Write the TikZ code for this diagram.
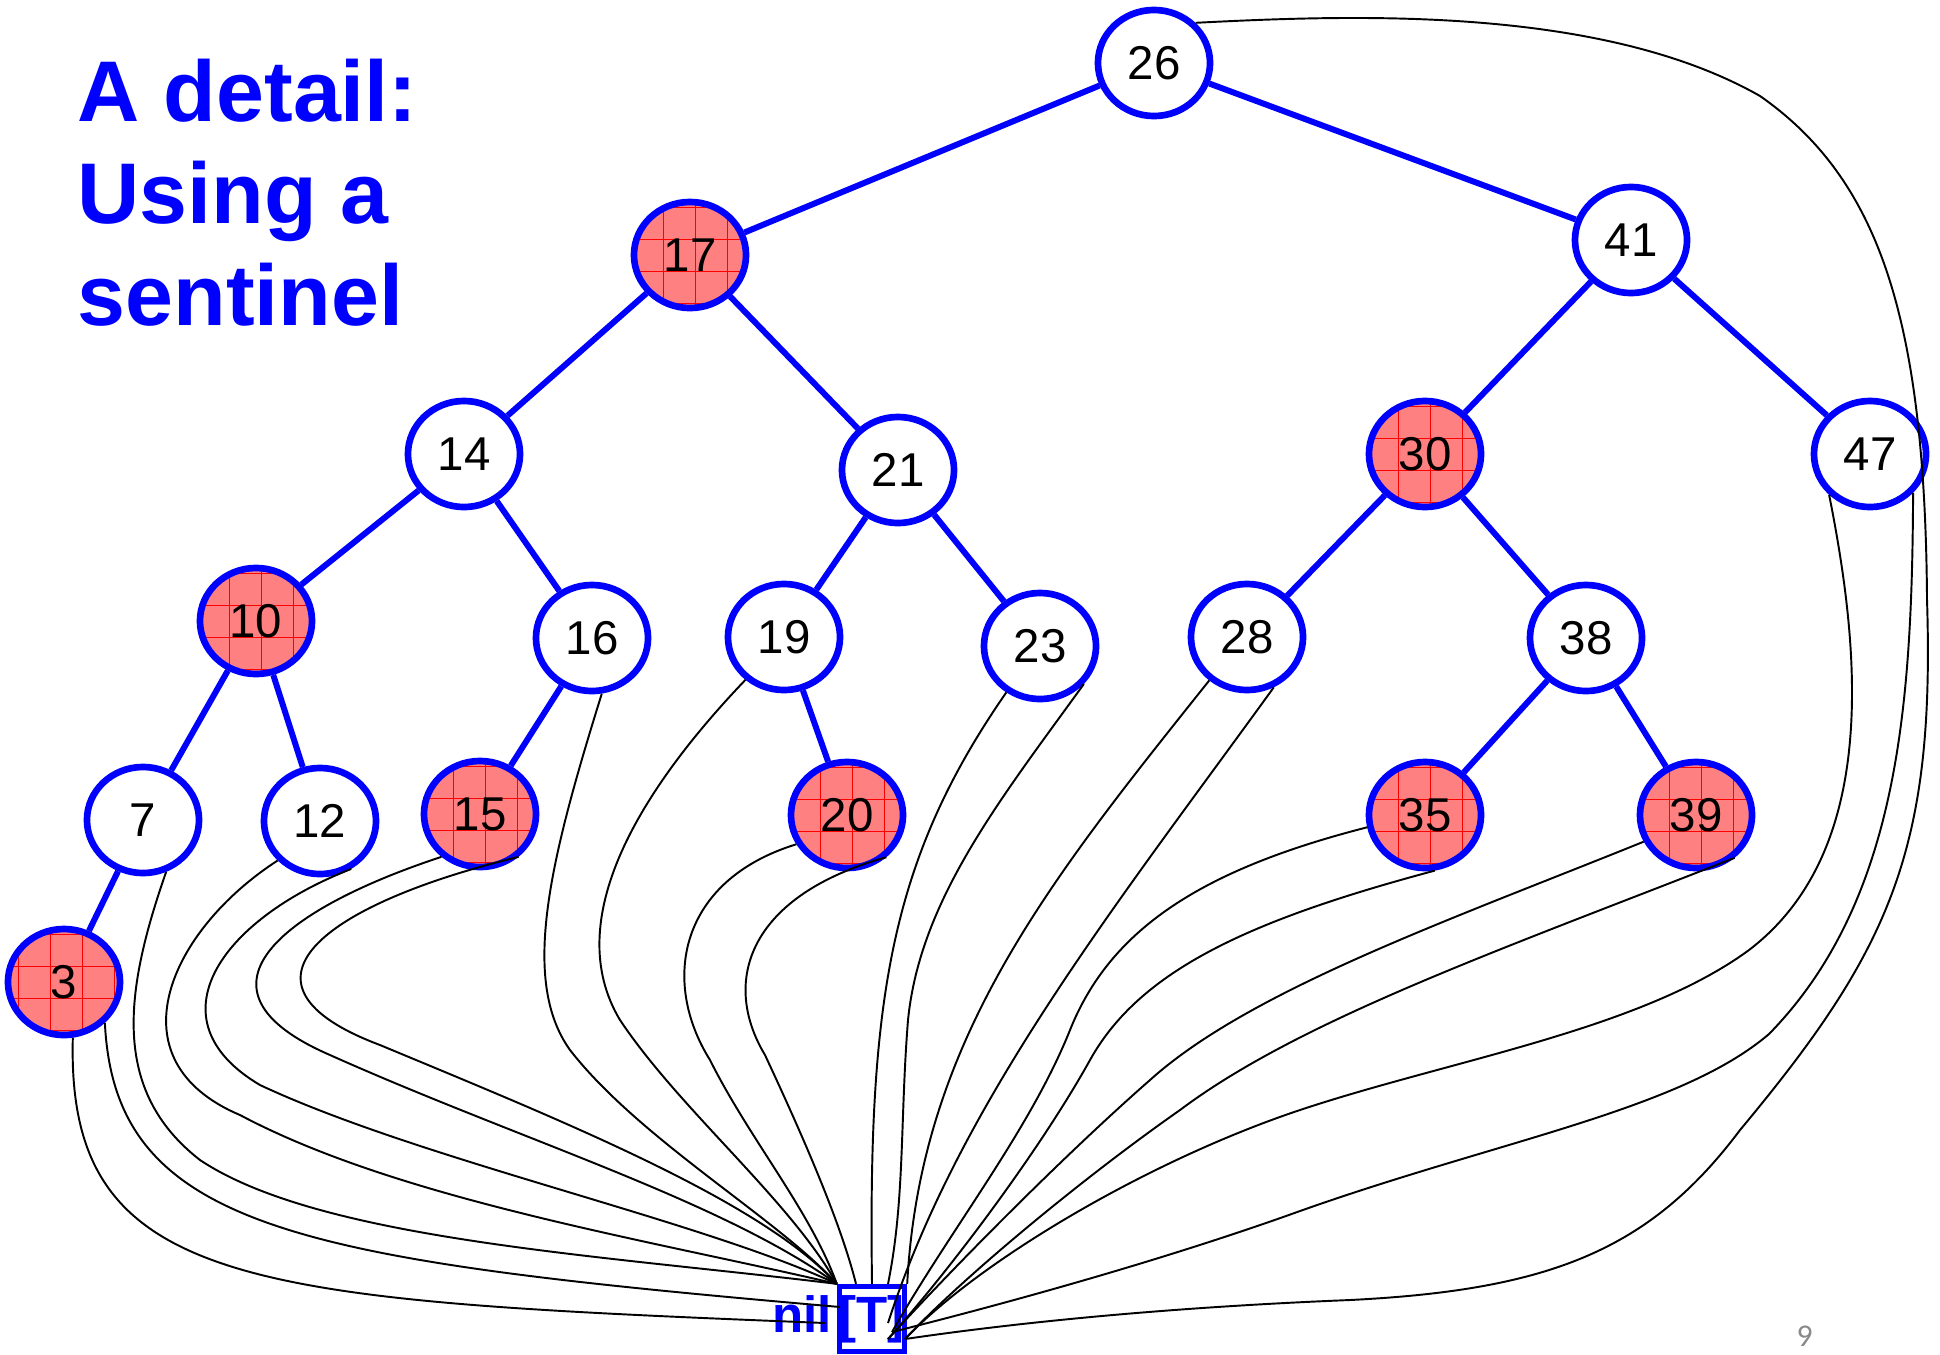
\documentclass[tikz,border=0pt]{standalone}
\usepackage{fontspec}
\setmainfont{Liberation Sans}
\newfontfamily\pagefont{Carlito}
\usetikzlibrary{shapes.geometric,positioning}

\definecolor{rbred}{RGB}{255,128,128}
\definecolor{pagegray}{RGB}{137,137,137}

\tikzset{
  rbnode/.style={ellipse, draw=blue, line width=1.9pt, fill=white,
    minimum width=1.12cm, minimum height=1.06cm, inner sep=0pt,
    font=\fontsize{13.5}{14}\selectfont},
  rednode/.style={rbnode, fill=rbred,
    path picture={\draw[red, line width=0.3pt]
      (path picture bounding box.south west) grid[step=0.32cm]
      (path picture bounding box.north east);}},
  treeedge/.style={blue, line width=1.7pt},
  nilptr/.style={black, line width=0.55pt},
}

\begin{document}
\begin{tikzpicture}[x=0.01cm, y=-0.01cm]
\useasboundingbox (0,0) rectangle (1940,1354);

\node[anchor=base west, align=left, inner sep=0pt, text=blue,
  font=\bfseries\fontsize{24.5}{29}\selectfont] (title) at (77,325)
  {A detail:\\Using a\\sentinel};

% the keys, level by level
\node[rbnode] (n26) at (1154,63) {26};
\node[rednode] (n17) at (690,255) {17};
\node[rbnode] (n41) at (1631,240) {41};
\node[rbnode] (n14) at (464,454) {14};
\node[rbnode] (n21) at (898,470) {21};
\node[rednode] (n30) at (1425,454) {30};
\node[rbnode] (n47) at (1870,454) {47};
\node[rednode] (n10) at (256,621) {10};
\node[rbnode] (n16) at (592,638) {16};
\node[rbnode] (n19) at (784,637) {19};
\node[rbnode] (n23) at (1040,646) {23};
\node[rbnode] (n28) at (1247,637) {28};
\node[rbnode] (n38) at (1586,638) {38};
\node[rbnode] (n7) at (143,820) {7};
\node[rbnode] (n12) at (320,821) {12};
\node[rednode] (n15) at (480,814) {15};
\node[rednode] (n20) at (847,815) {20};
\node[rednode] (n35) at (1425,815) {35};
\node[rednode] (n39) at (1696,815) {39};
\node[rednode] (n3) at (64,982) {3};

\draw[treeedge] (n26) -- (n17);
\draw[treeedge] (n26) -- (n41);
\draw[treeedge] (n17) -- (n14);
\draw[treeedge] (n17) -- (n21);
\draw[treeedge] (n41) -- (n30);
\draw[treeedge] (n41) -- (n47);
\draw[treeedge] (n14) -- (n10);
\draw[treeedge] (n14) -- (n16);
\draw[treeedge] (n21) -- (n19);
\draw[treeedge] (n21) -- (n23);
\draw[treeedge] (n30) -- (n28);
\draw[treeedge] (n30) -- (n38);
\draw[treeedge] (n10) -- (n7);
\draw[treeedge] (n10) -- (n12);
\draw[treeedge] (n16) -- (n15);
\draw[treeedge] (n19) -- (n20);
\draw[treeedge] (n38) -- (n35);
\draw[treeedge] (n38) -- (n39);
\draw[treeedge] (n7) -- (n3);

% sentinel
\node[draw=blue, line width=1.5pt, minimum size=0.65cm, inner sep=0pt,
  text=blue, font=\bfseries\fontsize{14.5}{15}\selectfont] (nilT) at (872,1319) {[T]};
\node[base left=0.04cm of nilT, inner sep=0pt, text=blue,
  font=\bfseries\fontsize{14.5}{15}\selectfont] (nillabel) {nil};

\coordinate (tA) at (nilT.north west);
\coordinate (tB) at ([xshift=-0.16cm]nilT.north);
\coordinate (tC) at (nilT.north);
\coordinate (tD) at ([xshift=0.16cm]nilT.north);
\coordinate (tE) at (nilT.north east);
\coordinate (tL1) at ([shift={(-0.32cm,0.12cm)}]nilT.center);
\coordinate (tL2) at ([shift={(-0.47cm,-0.04cm)}]nilT.center);
\coordinate (tR1) at ([shift={(0.16cm,-0.04cm)}]nilT.center);
\coordinate (tR2) at ([shift={(0.20cm,-0.13cm)}]nilT.center);
\coordinate (tR3) at ([shift={(0.16cm,-0.20cm)}]nilT.center);
\coordinate (tR4) at ([shift={(0.33cm,-0.20cm)}]nilT.center);

% leaf pointers into the sentinel
\draw[nilptr] (n3.-81) .. controls (66,1290) and (250,1300) .. (tL2);
\draw[nilptr] (n3.-45) .. controls (115,1230) and (300,1260) .. (tL1);
\draw[nilptr] (n7.-66) .. controls (125,990) and (110,1090) .. (200,1160) .. controls (320,1240) and (600,1255) .. (tA);
\draw[nilptr] (n12.-137) .. controls (170,930) and (110,1060) .. (240,1115) .. controls (400,1200) and (650,1240) .. (tA);
\draw[nilptr] (n12.-57) .. controls (220,920) and (150,1020) .. (260,1085) .. controls (420,1160) and (700,1220) .. (tA);
\draw[nilptr] (n15.-132) .. controls (280,910) and (180,990) .. (330,1055) .. controls (520,1140) and (720,1200) .. (tA);
\draw[nilptr] (n15.-48) .. controls (320,905) and (220,985) .. (380,1045) .. controls (560,1120) and (760,1200) .. (tA);
\draw[nilptr] (n16.-80) .. controls (550,860) and (520,980) .. (570,1050) .. controls (640,1140) and (780,1220) .. (tA);
\draw[nilptr] (n19.-132) .. controls (640,790) and (560,920) .. (620,1020) .. controls (680,1110) and (790,1200) .. (tA);
\draw[nilptr] (n20.-150) .. controls (680,880) and (660,980) .. (710,1060) .. controls (750,1140) and (810,1210) .. (tA);
\draw[nilptr] (n20.-47) .. controls (750,895) and (720,980) .. (765,1055) .. controls (800,1130) and (840,1220) .. (tB);
\draw[nilptr] (n23.-126) .. controls (890,860) and (868,1000) .. (tC);
\draw[nilptr] (n23.-41) .. controls (1000,800) and (920,900) .. (908,1020) .. controls (900,1120) and (905,1200) .. (tD);
\draw[nilptr] (n28.-131) .. controls (1050,880) and (920,1040) .. (tE);
\draw[nilptr] (n28.-62) .. controls (1120,900) and (960,1100) .. (tR1);
\draw[nilptr] (n35.-168) .. controls (1200,870) and (1110,930) .. (1070,1030) .. controls (1030,1130) and (950,1230) .. (tR2);
\draw[nilptr] (n35.-80) .. controls (1250,920) and (1140,970) .. (1090,1060) .. controls (1040,1150) and (950,1270) .. (tR3);
\draw[nilptr] (n39.-153) .. controls (1450,920) and (1250,990) .. (1150,1080) .. controls (1070,1150) and (960,1260) .. (tR3);
\draw[nilptr] (n39.-48) .. controls (1500,950) and (1300,1020) .. (1180,1110) .. controls (1080,1180) and (960,1280) .. (tR4);
\draw[nilptr] (n47.-135) .. controls (1860,650) and (1880,850) .. (1749,950) .. controls (1640,1030) and (1450,1060) .. (1300,1110) .. controls (1150,1160) and (980,1260) .. (tR4);
\draw[nilptr] (n47.-42) .. controls (1912,700) and (1900,900) .. (1769,1034) .. controls (1680,1110) and (1500,1140) .. (1300,1211) .. controls (1150,1265) and (980,1310) .. (tR2);
% parent of the root
\draw[nilptr] (n26.44) .. controls (1350,15) and (1600,5) .. (1760,96) .. controls (1880,180) and (1925,320) .. (1927,600) .. controls (1935,850) and (1890,950) .. (1740,1130) .. controls (1650,1250) and (1550,1290) .. (1350,1300) .. controls (1150,1308) and (1000,1325) .. (tR4);

\node[anchor=base west, inner sep=0pt, text=pagegray,
  font=\pagefont\fontsize{9}{9}\selectfont] (pagenum) at (1796,1346) {9};
\end{tikzpicture}
\end{document}
